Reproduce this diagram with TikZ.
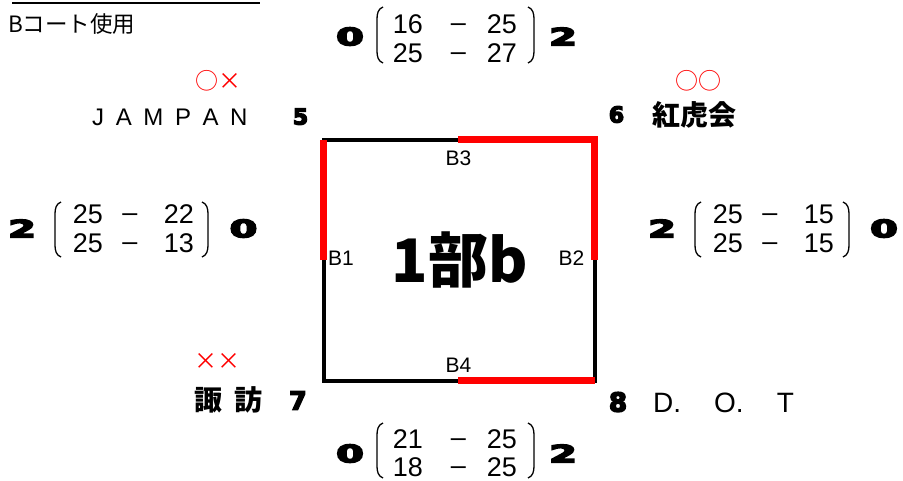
\documentclass[tikz,border=0pt]{standalone}
\usepackage{fontspec}
\setmainfont{Liberation Sans}
\newfontfamily\jp{Noto Sans CJK JP}
\newfontface\heavy{DejaVu Sans Bold}[FakeBold=6]
\newcommand\fs[1]{\fontsize{#1}{#1}\selectfont}
\newcommand\lparen[3]{\draw[paren] (#1+6,#2) to[out=200,in=90] (#1,#2+12) -- (#1,#3-12) to[out=-90,in=160] (#1+6,#3);}
\newcommand\rparen[3]{\draw[paren] (#1,#2) to[out=-20,in=90] (#1+6,#2+12) -- (#1+6,#3-12) to[out=-90,in=20] (#1,#3);}
\tikzset{
  court/.style={line width=4pt},
  redside/.style={draw=red, line width=6.5pt},
  paren/.style={line width=1.3pt},
  num/.style={font=\fs{27}, inner sep=0pt},
  big/.style={font=\heavy\fs{24}, inner sep=0pt},
  seed/.style={font=\heavy\fs{22}, inner sep=0pt, anchor=base},
  blab/.style={font=\fs{21}, inner sep=0pt, anchor=base},
  marks/.style={font=\jp\fs{23}, text=red, inner sep=0pt},
  team/.style={font=\fs{24}, inner sep=0pt},
}
\begin{document}
\begin{tikzpicture}[x=1pt,y=-1pt]
\useasboundingbox (0,0) rectangle (903,480);
% header
\coordinate (ul1) at (12,3);
\coordinate (ul2) at (260,3);
\draw[line width=1.3pt] (ul1) -- (ul2);
\node[font=\jp\fs{22.5}, inner sep=0pt, anchor=base west] (court) at (8,32) {Bコート使用};
% court square
\coordinate (c1) at (323.5,139.5);
\coordinate (c2) at (594.5,139.5);
\coordinate (c3) at (594.5,380.5);
\coordinate (c4) at (323.5,380.5);
\coordinate (m1) at (323.5,260);
\coordinate (m2) at (594.5,260);
\coordinate (m3) at (458,139.5);
\coordinate (m4) at (458,380.5);
\draw[court] (c1) -- (c2) -- (c3) -- (c4) -- cycle;
\draw[redside] (m1) -- (c1);
\draw[redside] (m3) -- (c2) -- (m2);
\draw[redside] (m4) -- (c3);
\node[blab] (b3) at (458.5,165) {B3};
\node[blab] (b1) at (341,265) {B1};
\node[blab] (b2) at (571.5,265) {B2};
\node[blab] (b4) at (458.5,372) {B4};
\node[font=\jp\bfseries\fs{60}, inner sep=0pt, anchor=base] (title) at (460,282) {1部b};
% teams
\node[marks] (mk5) at (218,81) {○×};
\node[team, anchor=base west] (t5) at (92,125) {J\hspace{11.6pt}A\hspace{11.6pt}M\hspace{11.6pt}P\hspace{11.6pt}A\hspace{11.6pt}N};
\node[seed] (s5) at (300.5,124.5) {5};
\node[marks] (mk6) at (698,81) {○○};
\node[seed] (s6) at (616.5,122.5) {6};
\node[font=\jp\bfseries\fs{28}, inner sep=0pt] (t6) at (694.5,115) {紅虎会};
\node[marks] (mk7) at (217.5,361) {××};
\node[font=\jp\bfseries\fs{28}, inner sep=0pt] (t7) at (228.5,400) {諏\hspace{13pt}訪};
\node[seed, font=\heavy\fs{25}] (s7) at (298,409.5) {7};
\node[seed, font=\heavy\fs{26}] (s8) at (618,411.5) {8};
\node[team, font=\fs{28}, anchor=base west] (t8) at (653,412) {D.\hspace{33pt}O.\hspace{33pt}T};
% top score
\node[big] (ta) at (350,36.5) {\scalebox{1.65}[1]{0}};
\lparen{377}{7}{63}
\node[num, anchor=base east] (ta1) at (423,33) {16};
\node[num, anchor=base] (td1) at (458.5,31) {–};
\node[num, anchor=base east] (tb1) at (517,33) {25};
\node[num, anchor=base east] (ta2) at (423,62) {25};
\node[num, anchor=base] (td2) at (458.5,60) {–};
\node[num, anchor=base east] (tb2) at (517,62) {27};
\rparen{528}{7}{63}
\node[big] (tb) at (563,36.5) {\scalebox{1.65}[1]{2}};
% left score
\node[big] (la) at (22,228.5) {\scalebox{1.65}[1]{2}};
\lparen{55}{202}{257}
\node[num, anchor=base east] (la1) at (103,223) {25};
\node[num, anchor=base] (ld1) at (130,221) {–};
\node[num, anchor=base east] (lb1) at (194,223) {22};
\node[num, anchor=base east] (la2) at (103,252) {25};
\node[num, anchor=base] (ld2) at (130,250) {–};
\node[num, anchor=base east] (lb2) at (194,252) {13};
\rparen{202}{202}{257}
\node[big] (lb) at (243.5,228.5) {\scalebox{1.65}[1]{0}};
% right score
\node[big] (ra) at (662,228.5) {\scalebox{1.65}[1]{2}};
\lparen{695}{202}{257}
\node[num, anchor=base east] (ra1) at (743,223) {25};
\node[num, anchor=base] (rd1) at (770,221) {–};
\node[num, anchor=base east] (rb1) at (834,223) {15};
\node[num, anchor=base east] (ra2) at (743,252) {25};
\node[num, anchor=base] (rd2) at (770,250) {–};
\node[num, anchor=base east] (rb2) at (834,252) {15};
\rparen{843}{202}{257}
\node[big] (rb) at (884,228.5) {\scalebox{1.65}[1]{0}};
% bottom score
\node[big] (ba) at (350,453.5) {\scalebox{1.65}[1]{0}};
\lparen{377}{423}{478}
\node[num, anchor=base east] (ba1) at (423,448) {21};
\node[num, anchor=base] (bd1) at (458.5,446) {–};
\node[num, anchor=base east] (bb1) at (517,448) {25};
\node[num, anchor=base east] (ba2) at (423,476) {18};
\node[num, anchor=base] (bd2) at (458.5,474) {–};
\node[num, anchor=base east] (bb2) at (517,476) {25};
\rparen{528}{423}{478}
\node[big] (bb) at (563,453.5) {\scalebox{1.65}[1]{2}};
\end{tikzpicture}
\end{document}
